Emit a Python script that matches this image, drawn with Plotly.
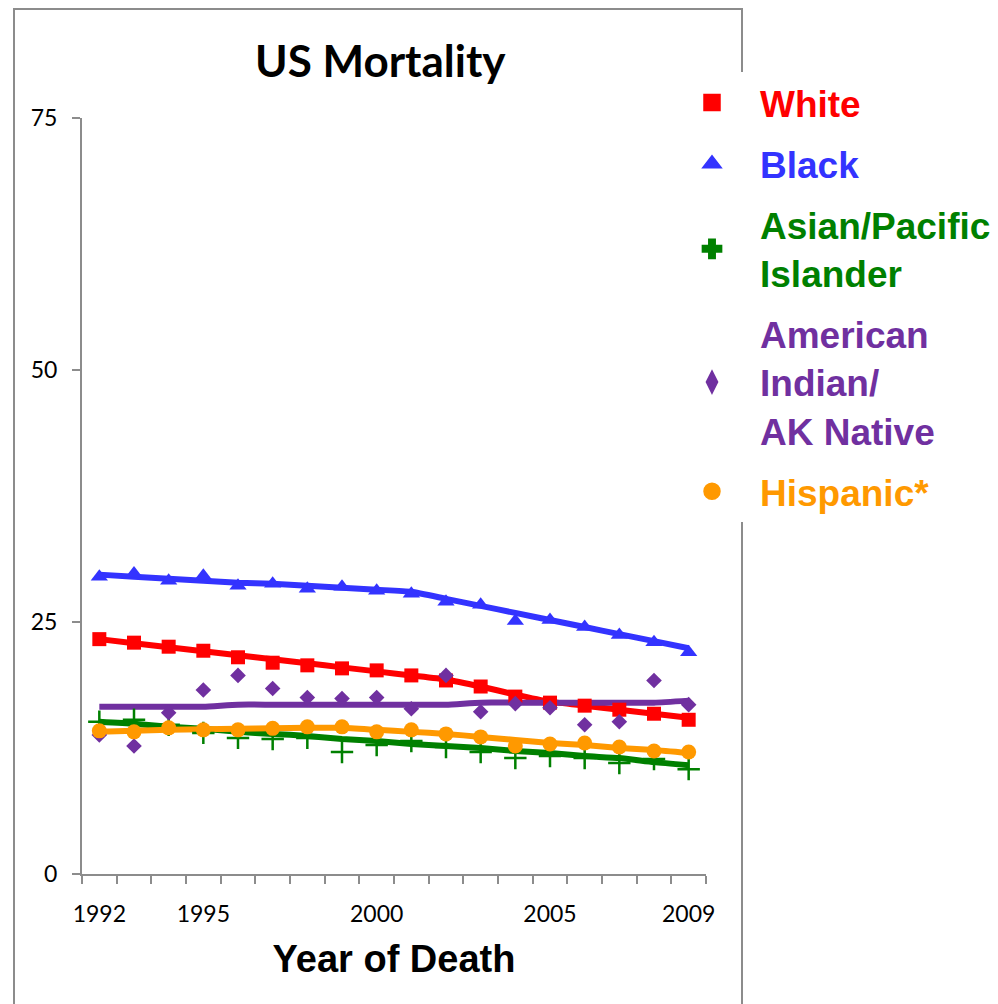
import plotly.graph_objects as go

years = list(range(1992, 2010))

white_pts = [23.3, 22.95, 22.55, 22.15, 21.5, 20.96, 20.7, 20.4, 20.2, 19.7, 19.2, 18.6, 17.6, 17.0, 16.7, 16.3, 15.9, 15.3]
white_fit = [23.3, 22.9, 22.5, 22.1, 21.7, 21.3, 20.9, 20.5, 20.1, 19.7, 19.3, 18.6, 17.8, 17.1, 16.7, 16.3, 15.9, 15.5]

black_pts = [29.5, 29.8, 29.1, 29.6, 28.6, 28.8, 28.3, 28.5, 28.1, 27.8, 27.0, 26.7, 25.1, 25.2, 24.5, 23.7, 23.0, 22.0]
black_fit = [29.7, 29.5, 29.3, 29.1, 28.9, 28.8, 28.6, 28.4, 28.2, 28.0, 27.3, 26.6, 25.9, 25.2, 24.5, 23.8, 23.1, 22.4]

asian_pts = [15.1, 15.3, 14.8, 14.0, 13.5, 13.4, 13.5, 12.1, 12.8, 13.2, 12.6, 12.1, 11.5, 11.7, 11.5, 11.0, 11.4, 10.4]
asian_fit = [15.1, 14.9, 14.6, 14.4, 14.1, 13.9, 13.7, 13.4, 13.2, 12.9, 12.7, 12.5, 12.2, 12.0, 11.7, 11.5, 11.1, 10.8]

aian_pts = [13.8, 12.7, 16.0, 18.25, 19.7, 18.4, 17.5, 17.4, 17.5, 16.4, 19.7, 16.1, 16.9, 16.5, 14.8, 15.1, 19.2, 16.8]
aian_fit = [16.6, 16.6, 16.6, 16.6, 16.8, 16.8, 16.8, 16.8, 16.8, 16.8, 16.8, 17.0, 17.0, 17.0, 17.0, 17.0, 17.0, 17.2]

hisp_pts = [14.2, 14.1, 14.5, 14.3, 14.3, 14.45, 14.6, 14.6, 14.1, 14.3, 13.9, 13.6, 12.7, 12.9, 13.0, 12.6, 12.2, 12.1]
hisp_fit = [14.1, 14.2, 14.3, 14.35, 14.4, 14.45, 14.5, 14.5, 14.3, 14.1, 13.9, 13.6, 13.3, 13.0, 12.8, 12.5, 12.3, 12.0]

names = ["White", "Black", "Asian/Pacific<br>Islander", "American<br>Indian/<br>AK Native", "Hispanic*"]
colors = ["#FF0000", "#3333FF", "#008000", "#7030A0", "#FF9900"]
symbols = ["square", "triangle-up", "cross-thin", "diamond", "circle"]
pts = [white_pts, black_pts, asian_pts, aian_pts, hisp_pts]
fits = [white_fit, black_fit, asian_fit, aian_fit, hisp_fit]

x_labels = [1992, 1995, 2000, 2005, 2009]
y_ticks = [0, 25, 50, 75]

data_sizes = {"square": 14, "triangle-up": 15, "cross-thin": 16, "diamond": 12, "circle": 15}
legend_symbols = {"square": "square", "triangle-up": "triangle-up", "cross-thin": "cross",
                  "diamond": "diamond-tall", "circle": "circle"}

fig = go.Figure()

# fitted trend lines
for i in range(5):
    fig.add_trace(go.Scatter(x=years, y=fits[i], mode="lines",
                             line=dict(color=colors[i], width=6, shape="spline", smoothing=0.5),
                             showlegend=False, hoverinfo="skip"))

# observed rates (markers)
for i in range(5):
    s = symbols[i]
    if s == "cross-thin":
        marker = dict(symbol=s, size=data_sizes[s], line=dict(color=colors[i], width=2.5), color=colors[i])
    else:
        marker = dict(symbol=s, size=data_sizes[s], color=colors[i])
    fig.add_trace(go.Scatter(x=years, y=pts[i], mode="markers", marker=marker,
                             name=names[i], showlegend=False, legendgroup="g%d" % i))

# legend entries (larger legend symbols, as in the original)
for i in range(5):
    s = symbols[i]
    fig.add_trace(go.Scatter(x=[None], y=[None], mode="markers",
                             marker=dict(symbol=legend_symbols[s], size=16, color=colors[i],
                                         line=dict(color=colors[i], width=1.5)),
                             name='<span style="color:%s">%s</span>' % (colors[i], names[i]),
                             legendgroup="g%d" % i, showlegend=True))

# page body adds an 8px offset; figure coordinates are reference pixels minus 8
OFF = 8
W, H = 998 - OFF, 1004 - OFF


def px(x):
    return (x - OFF) / W


def py(y):
    return 1 - (y - OFF) / H


fig.update_layout(
    width=W, height=H,
    margin=dict(l=0, r=0, t=0, b=0, autoexpand=False),
    paper_bgcolor="white", plot_bgcolor="white",
    showlegend=True,
    legend=dict(x=px(664), y=py(72), xanchor="left", yanchor="top",
                bgcolor="white", borderwidth=0,
                font=dict(family="Liberation Sans, Arial", size=37, color="black", weight="bold"),
                itemwidth=86, tracegroupgap=10, traceorder="grouped"),
    xaxis=dict(domain=[px(82), px(706)], range=[1991.5, 2009.5],
               showline=True, linecolor="#8c8c8c", linewidth=2,
               showgrid=False, zeroline=False,
               tickmode="array", tickvals=x_labels, ticktext=[str(v) for v in x_labels],
               ticks="", ticklabelstandoff=18,
               tickfont=dict(family="Lato, Carlito, sans-serif", size=23, color="black"),
               minor=dict(tickmode="array", tickvals=[y + 0.5 for y in range(1991, 2010)],
                          ticks="outside", ticklen=8, tickcolor="#8c8c8c", tickwidth=2, showgrid=False),
               title=dict(text="<b>Year of Death</b>", standoff=20,
                          font=dict(family="Liberation Sans, Arial", size=38, color="black"))),
    yaxis=dict(domain=[py(874), py(118)], range=[0, 75],
               showline=True, linecolor="#8c8c8c", linewidth=2,
               showgrid=False, zeroline=False,
               tickmode="array", tickvals=y_ticks,
               ticks="outside", ticklen=8, tickcolor="#8c8c8c", tickwidth=2,
               ticklabelstandoff=10,
               tickfont=dict(family="Lato, Carlito, sans-serif", size=23, color="black")),
    annotations=[dict(text="<b>US Mortality</b>", x=px(380), y=py(60), xref="paper", yref="paper",
                      xanchor="center", yanchor="middle", showarrow=False,
                      font=dict(family="Lato, Carlito, sans-serif", size=44, color="black"))],
    shapes=[dict(type="rect", xref="paper", yref="paper", x0=px(14), x1=px(742), y0=-0.02, y1=py(9),
                 line=dict(color="#8c8c8c", width=2), fillcolor="rgba(0,0,0,0)", layer="below")],
)

fig.write_html("out.html")
